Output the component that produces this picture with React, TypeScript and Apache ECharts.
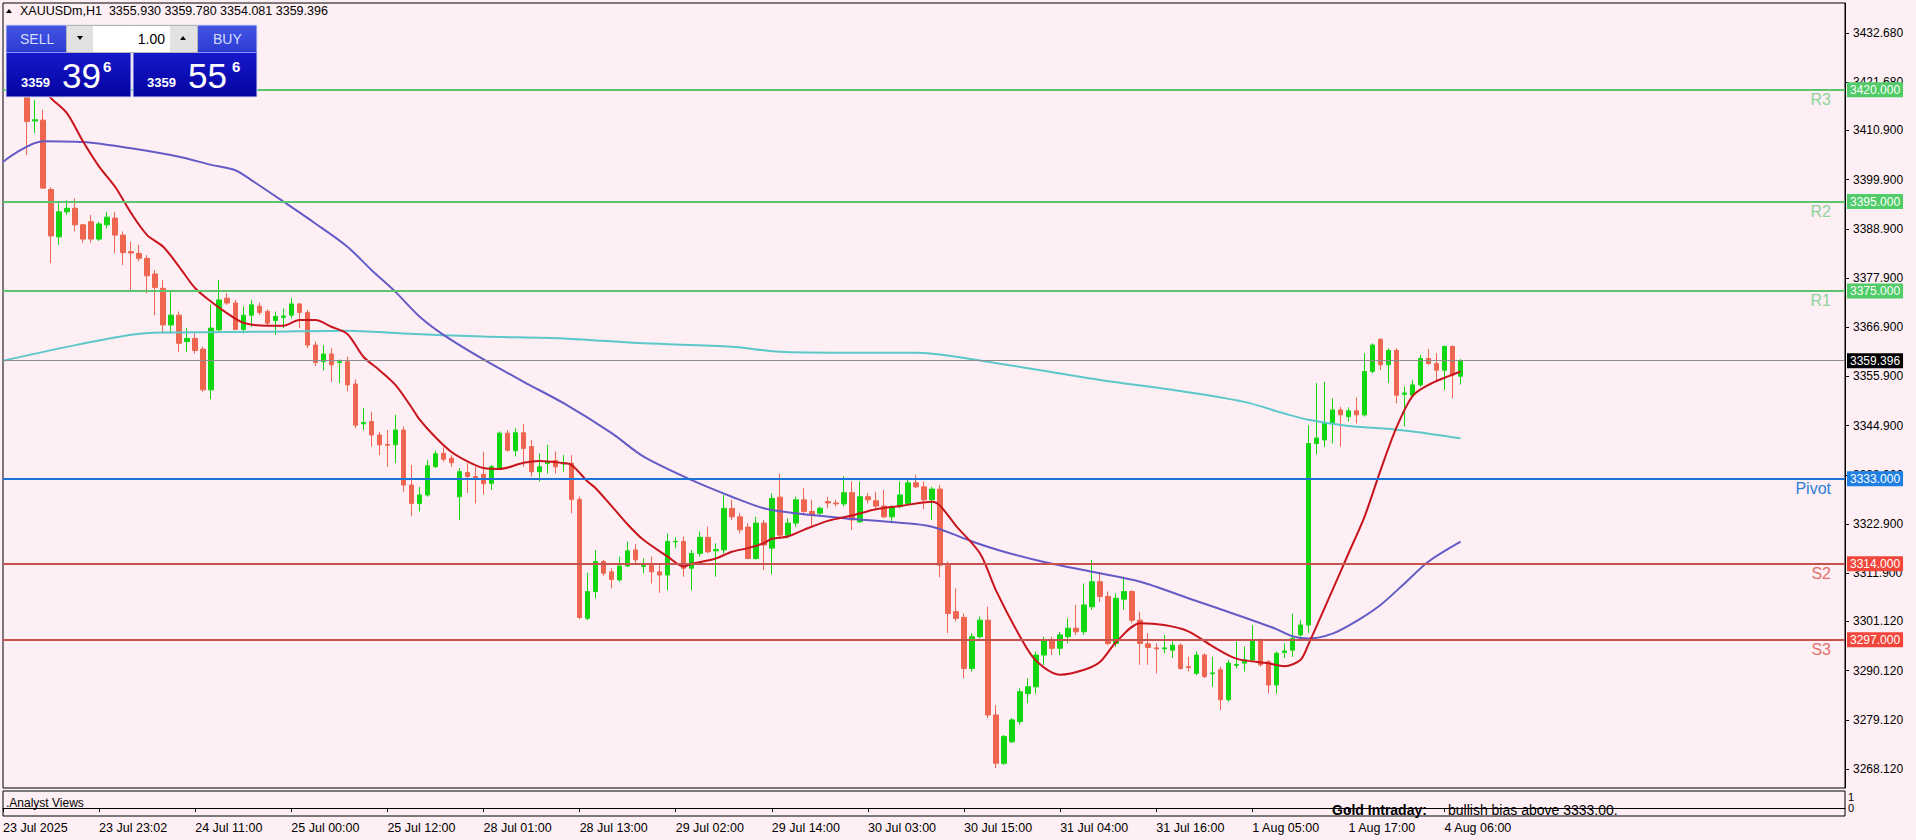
import React, { useEffect, useRef } from 'react';
import * as echarts from 'echarts';

// ---------- data ----------
const symbolTitle = 'XAUUSDm,H1  3355.930 3359.780 3354.081 3359.396';
const timeLabels = ['23 Jul 2025', '23 Jul 23:02', '24 Jul 11:00', '25 Jul 00:00', '25 Jul 12:00', '28 Jul 01:00', '28 Jul 13:00', '29 Jul 02:00', '29 Jul 14:00', '30 Jul 03:00', '30 Jul 15:00', '31 Jul 04:00', '31 Jul 16:00', '1 Aug 05:00', '1 Aug 17:00', '4 Aug 06:00'];
const priceTicks = [3432.68, 3421.68, 3410.9, 3399.9, 3388.9, 3377.9, 3366.9, 3355.9, 3344.9, 3333.9, 3322.9, 3311.9, 3301.12, 3290.12, 3279.12, 3268.12];
const subTicks = [0, 1];

// bar 0 is cut off at the left edge of the chart (not visible)
const opens = [null, 3426.0, 3423.0, 3420.5, 3413.0, 3413.2, 3397.7, 3387.1, 3392.7, 3393.5, 3389.8, 3390.5, 3386.6, 3389.8, 3391.3, 3387.5, 3383.8, 3383.4, 3382.3, 3378.8, 3375.6, 3367.4, 3369.6, 3363.7, 3364.4, 3362.0, 3352.9, 3366.3, 3373.4, 3372.3, 3366.4, 3369.6, 3371.6, 3370.4, 3368.4, 3369.1, 3369.6, 3372.1, 3370.2, 3362.9, 3359.2, 3360.9, 3359.0, 3359.2, 3354.2, 3345.3, 3345.8, 3342.8, 3340.7, 3340.6, 3343.9, 3331.6, 3327.5, 3329.4, 3335.7, 3338.7, 3337.6, 3329.0, 3334.4, 3333.5, 3334.0, 3332.0, 3335.4, 3343.2, 3339.3, 3343.3, 3340.2, 3334.6, 3336.4, 3337.1, 3336.3, 3336.5, 3328.4, 3301.8, 3307.8, 3314.5, 3312.2, 3310.4, 3313.5, 3317.1, 3313.4, 3313.7, 3312.2, 3311.5, 3318.9, 3319.0, 3313.0, 3316.3, 3319.9, 3316.9, 3317.1, 3326.4, 3324.5, 3322.2, 3315.2, 3323.1, 3317.5, 3328.9, 3320.4, 3323.1, 3328.3, 3325.7, 3325.3, 3327.9, 3327.6, 3327.4, 3329.9, 3323.4, 3329.0, 3328.1, 3326.9, 3324.5, 3326.8, 3327.5, 3332.1, 3331.2, 3328.3, 3330.7, 3313.7, 3303.3, 3302.0, 3290.6, 3297.7, 3301.4, 3280.2, 3269.4, 3274.2, 3278.7, 3285.0, 3286.5, 3293.6, 3297.0, 3295.1, 3297.7, 3299.6, 3298.8, 3304.4, 3310.0, 3306.7, 3296.2, 3306.1, 3307.8, 3301.4, 3296.1, 3295.2, 3295.0, 3294.7, 3295.8, 3291.0, 3289.5, 3293.6, 3289.4, 3290.3, 3283.6, 3291.3, 3291.8, 3292.5, 3297.0, 3292.1, 3286.9, 3294.2, 3294.7, 3298.1, 3300.3, 3340.9, 3341.7, 3345.4, 3348.4, 3346.9, 3348.2, 3347.3, 3357.0, 3364.2, 3358.5, 3361.7, 3351.9, 3351.7, 3354.0, 3359.9, 3358.8, 3357.3, 3362.6, 3355.93];
const closes = [null, 3423.0, 3420.5, 3412.9, 3413.3, 3398.0, 3387.3, 3392.7, 3393.5, 3389.8, 3386.6, 3386.6, 3390.0, 3391.5, 3387.5, 3383.6, 3383.5, 3382.3, 3378.4, 3375.8, 3367.4, 3369.6, 3363.3, 3364.4, 3361.7, 3352.9, 3366.7, 3373.0, 3372.3, 3366.4, 3369.6, 3371.9, 3370.2, 3367.8, 3369.3, 3369.4, 3372.1, 3370.2, 3362.9, 3359.0, 3360.9, 3358.5, 3359.2, 3354.0, 3345.0, 3345.6, 3342.8, 3340.6, 3340.5, 3343.9, 3331.6, 3327.5, 3329.4, 3335.9, 3338.6, 3337.4, 3336.6, 3334.6, 3333.5, 3332.9, 3331.9, 3335.7, 3343.2, 3339.4, 3343.3, 3339.8, 3334.6, 3335.7, 3336.7, 3335.7, 3336.6, 3328.4, 3302.0, 3307.8, 3314.5, 3311.9, 3310.5, 3313.5, 3316.9, 3314.9, 3313.6, 3312.2, 3311.5, 3319.0, 3319.0, 3313.0, 3316.3, 3319.9, 3316.7, 3317.2, 3326.4, 3324.5, 3321.6, 3315.2, 3323.1, 3318.2, 3328.6, 3320.4, 3323.1, 3328.3, 3325.7, 3324.9, 3326.4, 3327.6, 3327.4, 3329.9, 3323.8, 3329.0, 3328.3, 3326.9, 3324.5, 3326.8, 3329.4, 3332.1, 3331.2, 3328.3, 3330.7, 3313.7, 3302.9, 3301.8, 3290.6, 3297.7, 3301.4, 3280.2, 3269.4, 3275.4, 3279.1, 3285.4, 3286.5, 3293.6, 3297.0, 3295.1, 3298.1, 3299.6, 3298.8, 3304.8, 3310.0, 3306.7, 3296.2, 3306.3, 3307.8, 3301.4, 3296.2, 3295.3, 3295.0, 3295.2, 3295.8, 3290.6, 3290.8, 3293.6, 3288.8, 3289.6, 3283.6, 3291.8, 3291.5, 3292.5, 3297.0, 3291.4, 3286.9, 3294.0, 3294.5, 3297.3, 3300.3, 3340.9, 3342.1, 3345.4, 3348.4, 3347.3, 3348.2, 3347.3, 3357.0, 3362.9, 3358.5, 3361.7, 3351.7, 3352.2, 3354.0, 3359.9, 3358.8, 3357.3, 3362.6, 3356.2, 3359.396];
const highs = [null, 3428.5, 3425.0, 3422.0, 3417.7, 3415.5, 3398.2, 3394.6, 3395.3, 3395.7, 3390.0, 3392.0, 3390.5, 3392.7, 3392.7, 3388.3, 3386.0, 3385.3, 3383.0, 3379.7, 3377.5, 3374.9, 3370.4, 3366.7, 3365.5, 3362.6, 3371.9, 3377.5, 3374.5, 3373.0, 3371.5, 3373.0, 3372.4, 3370.9, 3370.4, 3371.1, 3373.4, 3372.3, 3370.8, 3363.7, 3362.9, 3362.2, 3359.7, 3360.3, 3355.2, 3348.8, 3348.0, 3343.5, 3343.9, 3347.3, 3344.7, 3336.1, 3331.2, 3337.2, 3339.3, 3340.0, 3338.3, 3335.4, 3336.5, 3335.7, 3339.0, 3336.1, 3343.6, 3343.9, 3344.3, 3345.3, 3341.7, 3338.7, 3340.6, 3339.1, 3338.3, 3338.3, 3329.0, 3312.0, 3317.1, 3314.9, 3313.0, 3315.6, 3319.0, 3318.4, 3315.2, 3315.6, 3313.7, 3320.8, 3319.9, 3320.1, 3317.1, 3321.2, 3322.3, 3318.6, 3329.4, 3328.3, 3325.3, 3323.1, 3324.5, 3323.8, 3329.8, 3334.2, 3324.2, 3329.0, 3330.9, 3328.3, 3326.8, 3329.0, 3328.3, 3333.6, 3332.4, 3332.4, 3329.8, 3330.1, 3330.5, 3327.1, 3332.4, 3332.7, 3333.9, 3332.4, 3331.2, 3331.6, 3314.5, 3308.5, 3302.9, 3298.5, 3302.2, 3304.4, 3282.4, 3275.7, 3279.5, 3286.2, 3288.4, 3294.4, 3297.7, 3297.7, 3298.8, 3301.8, 3304.8, 3309.6, 3314.9, 3312.2, 3307.8, 3307.4, 3311.1, 3308.1, 3303.3, 3298.5, 3296.2, 3298.1, 3296.6, 3296.2, 3293.2, 3294.4, 3294.0, 3293.2, 3291.0, 3292.5, 3296.6, 3295.5, 3300.3, 3297.3, 3292.5, 3294.4, 3296.2, 3302.9, 3301.4, 3345.0, 3354.4, 3354.7, 3351.0, 3349.1, 3349.0, 3351.2, 3361.1, 3363.3, 3364.4, 3362.2, 3362.2, 3353.6, 3355.1, 3360.7, 3362.0, 3361.1, 3362.8, 3362.8, 3359.78];
const lows = [null, 3421.0, 3418.5, 3405.4, 3410.3, 3397.8, 3381.2, 3385.3, 3392.0, 3388.3, 3385.8, 3385.8, 3386.2, 3389.0, 3383.4, 3380.8, 3374.9, 3381.6, 3374.5, 3369.6, 3365.5, 3365.5, 3361.4, 3361.4, 3361.0, 3352.5, 3350.8, 3365.9, 3371.9, 3366.3, 3365.5, 3367.0, 3369.6, 3367.4, 3365.2, 3366.7, 3368.9, 3366.7, 3362.2, 3358.2, 3357.2, 3354.7, 3354.4, 3352.5, 3344.3, 3343.9, 3340.2, 3338.3, 3335.7, 3336.5, 3330.1, 3324.7, 3325.7, 3329.0, 3335.5, 3336.8, 3335.7, 3323.8, 3329.8, 3327.5, 3329.5, 3330.5, 3335.0, 3339.1, 3338.0, 3335.7, 3333.5, 3332.4, 3334.2, 3334.2, 3334.6, 3325.3, 3301.6, 3301.4, 3306.3, 3311.3, 3308.5, 3310.0, 3313.3, 3313.7, 3311.9, 3309.6, 3307.5, 3308.1, 3317.5, 3311.1, 3308.1, 3315.6, 3316.3, 3311.1, 3316.3, 3323.8, 3320.8, 3315.0, 3314.9, 3312.6, 3311.7, 3319.7, 3319.7, 3322.3, 3324.9, 3322.3, 3324.9, 3326.4, 3326.8, 3326.8, 3321.6, 3323.1, 3327.5, 3326.4, 3324.2, 3323.1, 3326.4, 3327.1, 3330.9, 3326.2, 3323.8, 3311.0, 3298.5, 3301.1, 3288.4, 3289.9, 3297.3, 3279.5, 3268.3, 3269.0, 3273.9, 3278.0, 3282.8, 3285.0, 3291.4, 3293.6, 3293.6, 3296.2, 3298.1, 3298.1, 3303.7, 3305.5, 3295.8, 3295.5, 3303.7, 3300.7, 3291.4, 3291.4, 3289.5, 3294.0, 3292.9, 3290.3, 3289.9, 3289.1, 3288.4, 3286.5, 3281.3, 3283.2, 3290.6, 3289.9, 3292.1, 3291.0, 3285.0, 3285.0, 3292.9, 3293.2, 3297.7, 3298.5, 3338.5, 3340.2, 3340.9, 3340.2, 3345.8, 3345.4, 3346.9, 3356.6, 3357.3, 3354.4, 3349.9, 3344.7, 3351.3, 3353.6, 3358.5, 3354.7, 3352.9, 3351.0, 3354.081];

// moving averages: [bar index, price]
const maFast = [[3, 3424], [6, 3418.1], [8, 3414.7], [10, 3408.4], [12, 3402.8], [14, 3398.3], [16, 3392.4], [18, 3387.5], [20, 3384.9], [22, 3380.4], [24, 3375.6], [26, 3372.6], [28, 3370.0], [30, 3367.9], [33, 3367.2], [35, 3367.2], [37, 3368.5], [39, 3368.5], [41, 3367.0], [43, 3365.4], [45, 3360.3], [47, 3357.3], [49, 3354.0], [51, 3349.0], [52, 3346.3], [54, 3342.3], [56, 3339.0], [58, 3336.9], [60, 3335.4], [62, 3335.2], [65, 3336.6], [67, 3337.0], [70, 3336.5], [71, 3336.1], [73, 3332.4], [74, 3330.9], [76, 3326.9], [78, 3322.8], [80, 3319.3], [83, 3315.6], [85, 3313.4], [86, 3314.0], [89, 3315.2], [91, 3316.7], [93, 3317.5], [95, 3318.6], [96, 3319.6], [98, 3320.1], [100, 3321.6], [103, 3323.6], [106, 3324.8], [109, 3326.2], [112, 3326.9], [116, 3327.9], [117, 3327.0], [119, 3322.5], [122, 3316.3], [124, 3308.0], [127, 3297.7], [129, 3292.3], [132, 3289.2], [135, 3290.3], [137, 3292.1], [139, 3296.5], [142, 3300.7], [145, 3300.3], [148, 3298.9], [151, 3295.6], [154, 3292.8], [158, 3291.75], [160, 3291.1], [162, 3292.5], [163, 3296.0], [166, 3308.1], [168, 3316.3], [170, 3324.5], [172, 3334.9], [174, 3344.5], [176, 3351.5], [178, 3354.0], [180, 3355.6], [182, 3357.0]];
const maSlow = [[0, 3403.9], [5, 3408.5], [10, 3408.3], [16, 3406.9], [22, 3405.0], [26, 3403.2], [29, 3402.0], [31, 3399.8], [35, 3395.0], [39, 3390.1], [43, 3384.9], [46, 3379.7], [49, 3374.8], [52, 3369.3], [55, 3365.2], [60, 3359.7], [65, 3354.7], [70, 3349.9], [76, 3343.2], [80, 3337.95], [86, 3332.7], [91, 3329.0], [95, 3326.4], [99, 3325.3], [105, 3324.2], [112, 3323.2], [116, 3322.3], [121, 3319.0], [125, 3316.7], [130, 3314.4], [136, 3312.2], [142, 3310.0], [148, 3306.3], [155, 3302.0], [159, 3299.4], [161, 3297.8], [163, 3297.3], [166, 3298.4], [169, 3301.2], [172, 3304.8], [175, 3309.6], [178, 3314.5], [182, 3318.95]];
const maLong = [[0, 3359.4], [8, 3362.5], [16, 3365.2], [20, 3365.7], [33, 3365.9], [43, 3366.1], [50, 3365.5], [60, 3364.8], [70, 3364.4], [80, 3363.3], [91, 3362.55], [97, 3361.4], [105, 3361.2], [114, 3361.2], [119, 3360.3], [137, 3355.1], [146, 3352.9], [155, 3350.2], [160, 3347.6], [163, 3346.2], [168, 3344.8], [172, 3344.3], [176, 3343.6], [182, 3342.05]];

const levelValues = [3420, 3395, 3375, 3333, 3314, 3297];
const levelNames = ['R3', 'R2', 'R1', 'Pivot', 'S2', 'S3'];
const lastPrice = 3359.396;
const sellQuote = ['3359', '39', '6'];
const buyQuote = ['3359', '55', '6'];
const lotSize = '1.00';
const subTitle = '.Analyst Views';
const noteHead = 'Gold Intraday:';
const noteBody = 'bullish bias above 3333.00.';

// ---------- styling ----------
const SLOTS = 231;
const Y_MIN = 3263.87;
const Y_MAX = 3439.39;
const BG = '#FDEFF3';
const FONT = '"Liberation Sans", Arial, sans-serif';
const BULL = '#12D612';
const BEAR = '#EE6650';
const levelLine = ['#5CC46E', '#5CC46E', '#5CC46E', '#1C74D6', '#C8524E', '#C8524E'];
const levelTag = ['#4FCB67', '#4FCB67', '#4FCB67', '#1E80E2', '#F2463A', '#F2463A'];
const levelText = ['#8ED39C', '#8ED39C', '#8ED39C', '#2C7DD3', '#E2716A', '#E2716A'];

const categories = Array.from({ length: SLOTS }, (_, i) => String(i));
const candleData = opens.map((o, i) => (o === null ? '-' : [o, closes[i], lows[i], highs[i]]));
const isLabelIdx = (i: number) => i % 12 === 0 && i / 12 < timeLabels.length;

function buildMarkLines() {
  const d: any[] = [];
  levelValues.forEach((v, i) => {
    d.push({
      yAxis: v,
      lineStyle: { color: levelLine[i], width: 2, type: 'solid' },
      label: { show: true, position: 'end', distance: 2, formatter: v.toFixed(3), backgroundColor: levelTag[i], color: '#fff', padding: [2, 3, 1, 3], fontSize: 12, fontFamily: FONT },
    });
    d.push({
      yAxis: v,
      lineStyle: { color: 'rgba(0,0,0,0)', width: 1, type: 'solid' },
      label: { show: true, position: 'insideEndBottom', distance: 2, offset: [-12, 0], formatter: levelNames[i], color: levelText[i], fontSize: 16, fontFamily: FONT },
    });
  });
  d.push({
    yAxis: lastPrice,
    lineStyle: { color: '#8C8C8C', width: 1, type: 'solid' },
    label: { show: true, position: 'end', distance: 2, formatter: lastPrice.toFixed(3), backgroundColor: '#000', color: '#fff', padding: [2, 3, 1, 3], fontSize: 12, fontFamily: FONT },
  });
  return d;
}

function txt(x: number, y: number, text: string, size: number, fill: string, weight = 'normal', align = 'left') {
  return {
    type: 'text', x, y, z: 100,
    style: { text, fill, fontSize: size, fontFamily: FONT, fontWeight: weight, align, textAlign: align, verticalAlign: 'middle', textVerticalAlign: 'middle' },
  };
}

function quotePanel(x: number, w: number, label: string, labelX: number, q: string[], qx: number[]) {
  const grad = {
    type: 'linear', x: 0, y: 0, x2: 0, y2: 1,
    colorStops: [
      { offset: 0, color: '#4556E4' }, { offset: 0.37, color: '#2C3BD2' },
      { offset: 0.375, color: '#1818CC' }, { offset: 1, color: '#0303A0' },
    ],
  };
  return [
    { type: 'rect', z: 100, shape: { x, y: 25, width: w, height: 72 }, style: { fill: grad, stroke: '#D8DAF4', lineWidth: 1 } },
    { type: 'line', z: 100, shape: { x1: x, y1: 52.5, x2: x + w, y2: 52.5 }, style: { stroke: '#8C96EA', lineWidth: 1 } },
    txt(labelX, 39, label, 14, '#D4DEFF'),
    txt(qx[0], 82, q[0], 13, '#FFFFFF', 'bold'),
    txt(qx[1], 75, q[1], 35, '#FFFFFF'),
    txt(qx[2], 66, q[2], 15, '#FFFFFF', 'bold'),
  ];
}

function buildGraphics() {
  return [
    { type: 'polygon', z: 100, shape: { points: [[6, 13], [12, 13], [9, 9]] }, style: { fill: '#000' } },
    txt(20, 10.5, symbolTitle, 12.5, '#000'),
    ...quotePanel(6, 125, 'SELL', 20, sellQuote, [21, 62, 103]),
    ...quotePanel(133, 124, 'BUY', 213, buyQuote, [147, 188, 232]),
    { type: 'rect', z: 101, shape: { x: 66.5, y: 25.5, width: 131, height: 27 }, style: { fill: '#E2E2E2', stroke: '#B4B4B4', lineWidth: 1 } },
    { type: 'rect', z: 101, shape: { x: 93, y: 26, width: 77, height: 26 }, style: { fill: '#FFFFFF' } },
    { type: 'polygon', z: 102, shape: { points: [[77, 36], [83, 36], [80, 40]] }, style: { fill: '#000' } },
    { type: 'polygon', z: 102, shape: { points: [[180, 40], [186, 40], [183, 36]] }, style: { fill: '#000' } },
    { ...txt(165, 38.5, lotSize, 14, '#000', 'normal', 'right'), z: 102 },
    txt(6, 803, subTitle, 12, '#000'),
    txt(1332, 809.5, noteHead, 14, '#000', 'bold'),
    txt(1448, 809.5, noteBody, 14, '#000'),
  ];
}

function buildOption() {
  const maLine = (data: number[][], color: string, width: number) => ({
    type: 'line', xAxisIndex: 0, yAxisIndex: 0, data, showSymbol: false, symbol: 'none',
    smooth: 0.3, z: 3, silent: true, lineStyle: { color, width },
  });
  return {
    animation: false,
    backgroundColor: BG,
    grid: [
      { left: 3, right: 71, top: 3, bottom: 52, show: true, borderColor: '#000', borderWidth: 1, backgroundColor: 'transparent' },
      { left: 3, right: 71, top: 791, height: 25, show: true, borderColor: '#000', borderWidth: 1, backgroundColor: 'transparent' },
    ],
    xAxis: [
      { type: 'category', gridIndex: 0, data: categories, boundaryGap: false, show: false },
      {
        type: 'category', gridIndex: 1, data: categories, boundaryGap: false,
        axisLine: { show: true, lineStyle: { color: '#000', width: 1 } },
        axisTick: { show: true, length: 4, interval: isLabelIdx, lineStyle: { color: '#000' } },
        axisLabel: {
          show: true, interval: isLabelIdx, hideOverlap: false, align: 'left', margin: 5,
          formatter: (_v: string, i: number) => timeLabels[i / 12] ?? '',
          color: '#000', fontSize: 12.5, fontFamily: FONT,
        },
        splitLine: { show: false },
      },
    ],
    yAxis: [
      {
        type: 'value', gridIndex: 0, position: 'right', min: Y_MIN, max: Y_MAX,
        axisLine: { show: true, lineStyle: { color: '#000' } },
        axisTick: { show: true, length: 4, customValues: priceTicks, lineStyle: { color: '#000' } },
        axisLabel: { customValues: priceTicks, formatter: (v: number) => v.toFixed(3), margin: 8, color: '#000', fontSize: 12, fontFamily: FONT },
        splitLine: { show: false },
      },
      {
        type: 'value', gridIndex: 1, position: 'right', min: -0.73, max: 1.55,
        axisLine: { show: false }, axisTick: { show: false, customValues: subTicks },
        axisLabel: { customValues: subTicks, formatter: (v: number) => String(v), margin: 3, color: '#000', fontSize: 11, fontFamily: FONT },
        splitLine: { show: false },
      },
    ],
    series: [
      {
        type: 'candlestick', xAxisIndex: 0, yAxisIndex: 0, data: candleData, barWidth: 5, z: 2,
        itemStyle: { color: BULL, color0: BEAR, borderColor: BULL, borderColor0: BEAR, borderWidth: 1 },
        markLine: { silent: true, symbol: ['none', 'none'], animation: false, data: buildMarkLines() },
      },
      maLine(maLong, '#5CC8CC', 2),
      maLine(maSlow, '#655BC6', 2),
      maLine(maFast, '#C8141C', 2),
    ],
    graphic: buildGraphics(),
  };
}

export default function App() {
  const ref = useRef<HTMLDivElement>(null);
  useEffect(() => {
    if (!ref.current) return;
    const chart = echarts.init(ref.current, null, { renderer: 'svg' });
    chart.setOption(buildOption() as any);
    return () => chart.dispose();
  }, []);
  return <div ref={ref} style={{ position: 'fixed', left: 0, top: 0, width: 1916, height: 840, background: BG }} />;
}
